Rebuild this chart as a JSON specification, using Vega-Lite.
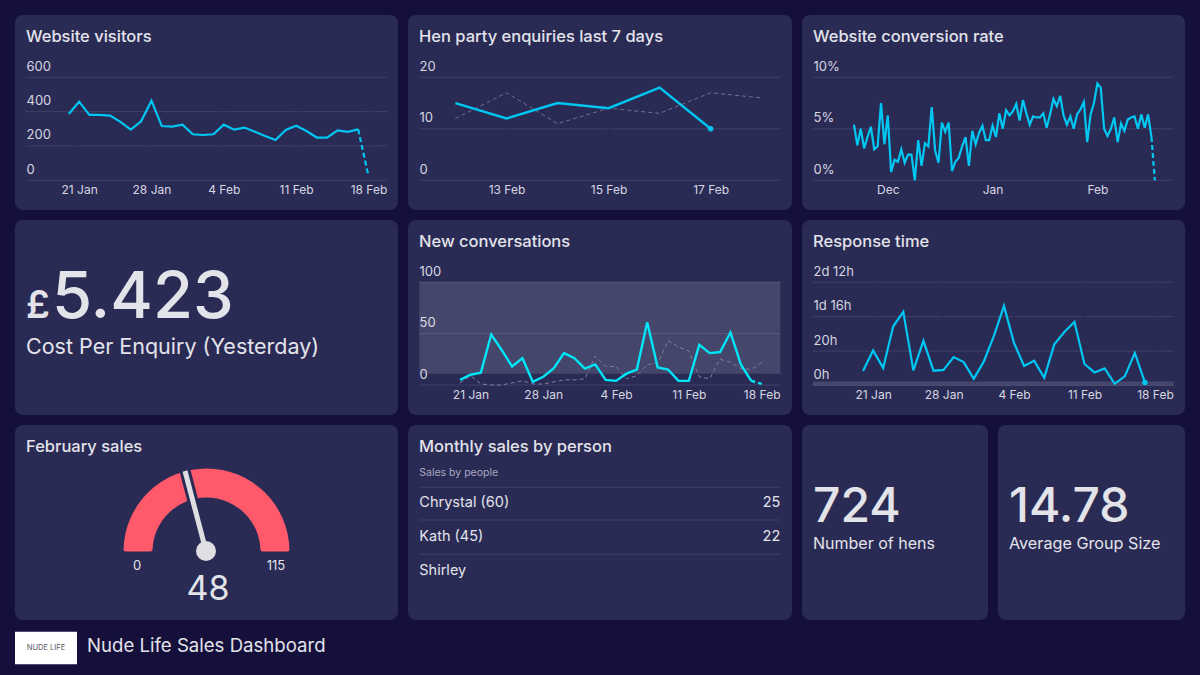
{
  "$schema": "https://vega.github.io/schema/vega-lite/v6.json",
  "background": "#15103b",
  "padding": {"left": 15, "top": 15, "right": 15, "bottom": 5},
  "spacing": 10,
  "config": {
    "font": "Inter",
    "view": {"fill": "#2a2b55", "stroke": null, "cornerRadius": 8},
    "concat": {"spacing": 10},
    "title": {"anchor": "start", "frame": "group", "dx": 11, "offset": -30, "fontSize": 16.5, "fontWeight": 500, "color": "#e3e3ea", "font": "Inter"},
    "axisX": {"title": null, "domain": false, "ticks": false, "grid": false, "offset": -30, "labelPadding": 4, "labelFontSize": 12, "labelColor": "#d6d6e0", "labelFlush": false, "labelOverlap": false, "format": "%-d %b", "labelFont": "Inter"},
    "axisY": {"title": null, "domain": false, "ticks": false, "grid": false, "labelAlign": "left", "labelBaseline": "bottom", "labelOffset": -4, "labelFontSize": 13, "labelColor": "#d6d6e0", "labelFont": "Inter"},
    "rule": {"color": "#3f4068", "strokeWidth": 1},
    "text": {"color": "#e3e3ea", "font": "Inter", "align": "left"}
  },
  "vconcat": [
    {
      "hconcat": [
        {
          "width": 383, "height": 195,
          "title": "Website visitors",
          "layer": [
            {
              "data": {"values": [{"v": 0}, {"v": 200}, {"v": 400}, {"v": 600}]},
              "mark": "rule",
              "encoding": {
                "y": {"field": "v", "type": "quantitative", "scale": {"domain": [0, 600], "range": [165.3, 62.3]}, "axis": {"values": [0, 200, 400, 600], "labelPadding": -11}},
                "x": {"datum": {"year": 2018, "month": "jan", "date": 15, "hours": 20}, "type": "temporal", "scale": {"domain": [{"year": 2018, "month": "jan", "date": 15, "hours": 20}, {"year": 2018, "month": "feb", "date": 19, "hours": 19}], "range": [10.7, 372]}, "axis": {"tickCount": {"interval": "week", "step": 1}}},
                "x2": {"datum": {"year": 2018, "month": "feb", "date": 19, "hours": 19}}
              }
            },
            {
              "data": {"values": [{"date": "2018-01-21"}, {"date": "2018-01-28"}, {"date": "2018-02-04"}, {"date": "2018-02-11"}, {"date": "2018-02-18"}]},
              "mark": {"type": "rule", "color": "#2a2b55", "strokeWidth": 1.5},
              "encoding": {"x": {"field": "date", "type": "temporal"}, "y": {"datum": 0}, "y2": {"datum": 600}}
            },
            {
              "data": {"values": [
                {"date": "2018-01-20", "visitors": 386}, {"date": "2018-01-21", "visitors": 458}, {"date": "2018-01-22", "visitors": 381}, {"date": "2018-01-23", "visitors": 381}, {"date": "2018-01-24", "visitors": 377}, {"date": "2018-01-25", "visitors": 340}, {"date": "2018-01-26", "visitors": 295}, {"date": "2018-01-27", "visitors": 344}, {"date": "2018-01-28", "visitors": 464}, {"date": "2018-01-29", "visitors": 316}, {"date": "2018-01-30", "visitors": 313}, {"date": "2018-01-31", "visitors": 324}, {"date": "2018-02-01", "visitors": 268}, {"date": "2018-02-02", "visitors": 264}, {"date": "2018-02-03", "visitors": 268}, {"date": "2018-02-04", "visitors": 324}, {"date": "2018-02-05", "visitors": 295}, {"date": "2018-02-06", "visitors": 307}, {"date": "2018-02-07", "visitors": 283}, {"date": "2018-02-08", "visitors": 258}, {"date": "2018-02-09", "visitors": 235}, {"date": "2018-02-10", "visitors": 293}, {"date": "2018-02-11", "visitors": 318}, {"date": "2018-02-12", "visitors": 287}, {"date": "2018-02-13", "visitors": 249}, {"date": "2018-02-14", "visitors": 249}, {"date": "2018-02-15", "visitors": 291}, {"date": "2018-02-16", "visitors": 282}, {"date": "2018-02-17", "visitors": 297}
              ]},
              "mark": {"type": "line", "color": "#00c6f2", "strokeWidth": 2.2},
              "encoding": {"x": {"field": "date", "type": "temporal"}, "y": {"field": "visitors", "type": "quantitative"}}
            },
            {
              "data": {"values": [{"date": "2018-02-17", "visitors": 297}, {"date": "2018-02-18", "visitors": 25}]},
              "mark": {"type": "line", "color": "#00c6f2", "strokeWidth": 2.2, "strokeDash": [5, 3]},
              "encoding": {"x": {"field": "date", "type": "temporal"}, "y": {"field": "visitors", "type": "quantitative"}}
            }
          ]
        },
        {
          "width": 384, "height": 195,
          "title": "Hen party enquiries last 7 days",
          "layer": [
            {
              "data": {"values": [{"v": 0}, {"v": 10}, {"v": 20}]},
              "mark": "rule",
              "encoding": {
                "y": {"field": "v", "type": "quantitative", "scale": {"domain": [0, 20], "range": [165.3, 62.3]}, "axis": {"values": [0, 10, 20], "labelPadding": -11}},
                "x": {"datum": {"year": 2018, "month": "feb", "date": 11, "hours": 7}, "type": "temporal", "scale": {"domain": [{"year": 2018, "month": "feb", "date": 11, "hours": 7}, {"year": 2018, "month": "feb", "date": 18, "hours": 8, "minutes": 45}], "range": [11.3, 372.3]}, "axis": {"tickCount": {"interval": "day", "step": 2}}},
                "x2": {"datum": {"year": 2018, "month": "feb", "date": 18, "hours": 8, "minutes": 45}}
              }
            },
            {
              "data": {"values": [{"date": "2018-02-13"}, {"date": "2018-02-15"}, {"date": "2018-02-17"}]},
              "mark": {"type": "rule", "color": "#2a2b55", "strokeWidth": 1.5},
              "encoding": {"x": {"field": "date", "type": "temporal"}, "y": {"datum": 0}, "y2": {"datum": 20}}
            },
            {
              "data": {"values": [{"date": "2018-02-12", "enquiries": 12}, {"date": "2018-02-13", "enquiries": 17}, {"date": "2018-02-14", "enquiries": 11}, {"date": "2018-02-15", "enquiries": 14}, {"date": "2018-02-16", "enquiries": 13}, {"date": "2018-02-17", "enquiries": 17}, {"date": "2018-02-18", "enquiries": 16}]},
              "mark": {"type": "line", "color": "#6f7090", "strokeWidth": 1, "strokeDash": [4, 3]},
              "encoding": {"x": {"field": "date", "type": "temporal"}, "y": {"field": "enquiries", "type": "quantitative"}}
            },
            {
              "data": {"values": [{"date": "2018-02-12", "enquiries": 15}, {"date": "2018-02-13", "enquiries": 12}, {"date": "2018-02-14", "enquiries": 15}, {"date": "2018-02-15", "enquiries": 14}, {"date": "2018-02-16", "enquiries": 18}, {"date": "2018-02-17", "enquiries": 10}]},
              "mark": {"type": "line", "color": "#00c6f2", "strokeWidth": 2.4},
              "encoding": {"x": {"field": "date", "type": "temporal"}, "y": {"field": "enquiries", "type": "quantitative"}}
            },
            {
              "data": {"values": [{"date": "2018-02-17", "enquiries": 10}]},
              "mark": {"type": "point", "filled": true, "color": "#00c6f2", "size": 30, "opacity": 1},
              "encoding": {"x": {"field": "date", "type": "temporal"}, "y": {"field": "enquiries", "type": "quantitative"}}
            }
          ]
        },
        {
          "width": 383, "height": 195,
          "title": "Website conversion rate",
          "layer": [
            {
              "data": {"values": [{"v": 0}, {"v": 5}, {"v": 10}]},
              "mark": "rule",
              "encoding": {
                "y": {"field": "v", "type": "quantitative", "scale": {"domain": [0, 10], "range": [165.3, 62.3]}, "axis": {"values": [0, 5, 10], "labelPadding": -11, "labelExpr": "datum.value + '%'"}},
                "x": {"datum": {"year": 2017, "month": "nov", "date": 8, "hours": 19}, "type": "temporal", "scale": {"domain": [{"year": 2017, "month": "nov", "date": 8, "hours": 19}, {"year": 2018, "month": "feb", "date": 23, "hours": 14}], "range": [10.7, 371.7]}, "axis": {"tickCount": {"interval": "month", "step": 1}, "format": "%b"}},
                "x2": {"datum": {"year": 2018, "month": "feb", "date": 23, "hours": 14}}
              }
            },
            {
              "data": {"values": [{"date": "2017-12-01"}, {"date": "2018-01-01"}, {"date": "2018-02-01"}]},
              "mark": {"type": "rule", "color": "#2a2b55", "strokeWidth": 1.5},
              "encoding": {"x": {"field": "date", "type": "temporal"}, "y": {"datum": 0}, "y2": {"datum": 10}}
            },
            {
              "data": {"values": [
                {"date": "2017-11-21", "rate": 5.4}, {"date": "2017-11-22", "rate": 3.4}, {"date": "2017-11-23", "rate": 5.0}, {"date": "2017-11-24", "rate": 3.1}, {"date": "2017-11-25", "rate": 4.2}, {"date": "2017-11-26", "rate": 5.2}, {"date": "2017-11-27", "rate": 3.0}, {"date": "2017-11-28", "rate": 3.3}, {"date": "2017-11-29", "rate": 7.5}, {"date": "2017-11-30", "rate": 3.5},
                {"date": "2017-12-01", "rate": 6.3}, {"date": "2017-12-02", "rate": 0.8}, {"date": "2017-12-03", "rate": 2.0}, {"date": "2017-12-04", "rate": 1.8}, {"date": "2017-12-05", "rate": 3.0}, {"date": "2017-12-06", "rate": 1.7}, {"date": "2017-12-07", "rate": 2.5}, {"date": "2017-12-08", "rate": 2.5}, {"date": "2017-12-09", "rate": 0.0}, {"date": "2017-12-10", "rate": 3.9},
                {"date": "2017-12-11", "rate": 1.4}, {"date": "2017-12-12", "rate": 3.6}, {"date": "2017-12-13", "rate": 3.3}, {"date": "2017-12-14", "rate": 7.1}, {"date": "2017-12-15", "rate": 2.9}, {"date": "2017-12-16", "rate": 1.7}, {"date": "2017-12-17", "rate": 5.6}, {"date": "2017-12-18", "rate": 4.7}, {"date": "2017-12-19", "rate": 5.6}, {"date": "2017-12-20", "rate": 0.9},
                {"date": "2017-12-21", "rate": 1.8}, {"date": "2017-12-22", "rate": 2.2}, {"date": "2017-12-23", "rate": 3.3}, {"date": "2017-12-24", "rate": 4.2}, {"date": "2017-12-25", "rate": 1.4}, {"date": "2017-12-26", "rate": 4.8}, {"date": "2017-12-27", "rate": 3.5}, {"date": "2017-12-28", "rate": 4.6}, {"date": "2017-12-29", "rate": 5.3}, {"date": "2017-12-30", "rate": 3.9},
                {"date": "2017-12-31", "rate": 3.9}, {"date": "2018-01-01", "rate": 5.3}, {"date": "2018-01-02", "rate": 4.2}, {"date": "2018-01-03", "rate": 6.5}, {"date": "2018-01-04", "rate": 5.0}, {"date": "2018-01-05", "rate": 6.8}, {"date": "2018-01-06", "rate": 6.3}, {"date": "2018-01-07", "rate": 6.7}, {"date": "2018-01-08", "rate": 7.4}, {"date": "2018-01-09", "rate": 5.8},
                {"date": "2018-01-10", "rate": 7.8}, {"date": "2018-01-11", "rate": 6.5}, {"date": "2018-01-12", "rate": 5.4}, {"date": "2018-01-13", "rate": 6.2}, {"date": "2018-01-14", "rate": 6.1}, {"date": "2018-01-15", "rate": 6.1}, {"date": "2018-01-16", "rate": 6.5}, {"date": "2018-01-17", "rate": 5.1}, {"date": "2018-01-18", "rate": 6.4}, {"date": "2018-01-19", "rate": 7.9},
                {"date": "2018-01-20", "rate": 7.2}, {"date": "2018-01-21", "rate": 8.2}, {"date": "2018-01-22", "rate": 6.3}, {"date": "2018-01-23", "rate": 5.4}, {"date": "2018-01-24", "rate": 6.2}, {"date": "2018-01-25", "rate": 5.0}, {"date": "2018-01-26", "rate": 6.4}, {"date": "2018-01-27", "rate": 6.9}, {"date": "2018-01-28", "rate": 7.6}, {"date": "2018-01-29", "rate": 3.7},
                {"date": "2018-01-30", "rate": 6.4}, {"date": "2018-01-31", "rate": 7.5}, {"date": "2018-02-01", "rate": 9.4}, {"date": "2018-02-02", "rate": 9.0}, {"date": "2018-02-03", "rate": 5.0}, {"date": "2018-02-04", "rate": 4.3}, {"date": "2018-02-05", "rate": 5.0}, {"date": "2018-02-06", "rate": 6.1}, {"date": "2018-02-07", "rate": 3.7}, {"date": "2018-02-08", "rate": 5.5},
                {"date": "2018-02-09", "rate": 4.8}, {"date": "2018-02-10", "rate": 5.9}, {"date": "2018-02-11", "rate": 6.1}, {"date": "2018-02-12", "rate": 6.2}, {"date": "2018-02-13", "rate": 5.0}, {"date": "2018-02-14", "rate": 6.4}, {"date": "2018-02-15", "rate": 5.1}, {"date": "2018-02-16", "rate": 6.4}, {"date": "2018-02-17", "rate": 4.2}
              ]},
              "mark": {"type": "line", "color": "#00c6f2", "strokeWidth": 2.2},
              "encoding": {"x": {"field": "date", "type": "temporal"}, "y": {"field": "rate", "type": "quantitative"}}
            },
            {
              "data": {"values": [{"date": "2018-02-17", "rate": 4.2}, {"date": "2018-02-18", "rate": 0}]},
              "mark": {"type": "line", "color": "#00c6f2", "strokeWidth": 2.2, "strokeDash": [5, 3]},
              "encoding": {"x": {"field": "date", "type": "temporal"}, "y": {"field": "rate", "type": "quantitative"}}
            }
          ]
        }
      ]
    },
    {
      "hconcat": [
        {
          "width": 383, "height": 195,
          "data": {"values": [{"currency": "£", "cost": "5.423", "label": "Cost Per Enquiry (Yesterday)"}]},
          "layer": [
            {
              "mark": {"type": "text", "fontSize": 38, "fontWeight": 600, "baseline": "alphabetic"},
              "encoding": {
                "text": {"field": "currency"},
                "x": {"datum": 11, "scale": {"domain": [0, 383], "range": [0, 383], "nice": false}, "axis": null},
                "y": {"datum": 98, "scale": {"domain": [0, 195], "range": [0, 195], "nice": false}, "axis": null}
              }
            },
            {
              "mark": {"type": "text", "fontSize": 65, "fontWeight": 500, "baseline": "alphabetic"},
              "encoding": {"text": {"field": "cost"}, "x": {"datum": 37}, "y": {"datum": 98}}
            },
            {
              "mark": {"type": "text", "fontSize": 21.5, "baseline": "middle"},
              "encoding": {"text": {"field": "label"}, "x": {"datum": 11}, "y": {"datum": 128}}
            }
          ]
        },
        {
          "width": 384, "height": 195,
          "title": "New conversations",
          "layer": [
            {
              "data": {"values": [{"v": 0}, {"v": 50}, {"v": 100}]},
              "mark": "rule",
              "encoding": {
                "y": {"field": "v", "type": "quantitative", "scale": {"domain": [0, 100], "range": [165, 62]}, "axis": {"values": [0, 50, 100], "labelPadding": -11}},
                "x": {"datum": {"year": 2018, "month": "jan", "date": 16, "hours": 2}, "type": "temporal", "scale": {"domain": [{"year": 2018, "month": "jan", "date": 16, "hours": 2}, {"year": 2018, "month": "feb", "date": 19, "hours": 19}], "range": [11.3, 372.3]}, "axis": {"tickCount": {"interval": "week", "step": 1}}},
                "x2": {"datum": {"year": 2018, "month": "feb", "date": 19, "hours": 19}}
              }
            },
            {
              "data": {"values": [{"target_from": 11, "target_to": 100}]},
              "mark": {"type": "rect", "color": "#ffffff", "opacity": 0.13},
              "encoding": {
                "y": {"field": "target_from", "type": "quantitative"},
                "y2": {"field": "target_to"},
                "x": {"datum": {"year": 2018, "month": "jan", "date": 16, "hours": 2}, "type": "temporal"},
                "x2": {"datum": {"year": 2018, "month": "feb", "date": 19, "hours": 19}}
              }
            },
            {
              "data": {"values": [
                {"date": "2018-01-20", "n": 2}, {"date": "2018-01-21", "n": 9}, {"date": "2018-01-22", "n": 1}, {"date": "2018-01-23", "n": 0}, {"date": "2018-01-24", "n": 0}, {"date": "2018-01-25", "n": 2}, {"date": "2018-01-26", "n": 4}, {"date": "2018-01-27", "n": 1}, {"date": "2018-01-28", "n": 1}, {"date": "2018-01-29", "n": 3}, {"date": "2018-01-30", "n": 5}, {"date": "2018-01-31", "n": 5}, {"date": "2018-02-01", "n": 6}, {"date": "2018-02-02", "n": 28}, {"date": "2018-02-03", "n": 18}, {"date": "2018-02-04", "n": 18}, {"date": "2018-02-05", "n": 6}, {"date": "2018-02-06", "n": 9}, {"date": "2018-02-07", "n": 20}, {"date": "2018-02-08", "n": 21}, {"date": "2018-02-09", "n": 43}, {"date": "2018-02-10", "n": 37}, {"date": "2018-02-11", "n": 33}, {"date": "2018-02-12", "n": 8}, {"date": "2018-02-13", "n": 6}, {"date": "2018-02-14", "n": 25}, {"date": "2018-02-15", "n": 22}, {"date": "2018-02-16", "n": 16}, {"date": "2018-02-17", "n": 15}, {"date": "2018-02-18", "n": 22}
              ]},
              "mark": {"type": "line", "color": "#7d7e9b", "strokeWidth": 1, "strokeDash": [4, 3]},
              "encoding": {"x": {"field": "date", "type": "temporal"}, "y": {"field": "n", "type": "quantitative"}}
            },
            {
              "data": {"values": [
                {"date": "2018-01-20", "n": 5}, {"date": "2018-01-21", "n": 10}, {"date": "2018-01-22", "n": 12}, {"date": "2018-01-23", "n": 49}, {"date": "2018-01-24", "n": 34}, {"date": "2018-01-25", "n": 18}, {"date": "2018-01-26", "n": 26}, {"date": "2018-01-27", "n": 3}, {"date": "2018-01-28", "n": 8}, {"date": "2018-01-29", "n": 16}, {"date": "2018-01-30", "n": 31}, {"date": "2018-01-31", "n": 26}, {"date": "2018-02-01", "n": 16}, {"date": "2018-02-02", "n": 20}, {"date": "2018-02-03", "n": 5}, {"date": "2018-02-04", "n": 4}, {"date": "2018-02-05", "n": 11}, {"date": "2018-02-06", "n": 15}, {"date": "2018-02-07", "n": 61}, {"date": "2018-02-08", "n": 17}, {"date": "2018-02-09", "n": 15}, {"date": "2018-02-10", "n": 4}, {"date": "2018-02-11", "n": 4}, {"date": "2018-02-12", "n": 39}, {"date": "2018-02-13", "n": 31}, {"date": "2018-02-14", "n": 32}, {"date": "2018-02-15", "n": 51}, {"date": "2018-02-16", "n": 20}, {"date": "2018-02-17", "n": 4}
              ]},
              "mark": {"type": "line", "color": "#00e6f6", "strokeWidth": 2.4},
              "encoding": {"x": {"field": "date", "type": "temporal"}, "y": {"field": "n", "type": "quantitative"}}
            },
            {
              "data": {"values": [{"date": "2018-02-17", "n": 4}, {"date": "2018-02-18", "n": 1}]},
              "mark": {"type": "line", "color": "#00e6f6", "strokeWidth": 2.4, "strokeDash": [4, 3]},
              "encoding": {"x": {"field": "date", "type": "temporal"}, "y": {"field": "n", "type": "quantitative"}}
            }
          ]
        },
        {
          "width": 383, "height": 195,
          "title": "Response time",
          "layer": [
            {
              "data": {"values": [{"v": 0}, {"v": 20}, {"v": 40}, {"v": 60}]},
              "mark": "rule",
              "encoding": {
                "y": {"field": "v", "type": "quantitative", "scale": {"domain": [0, 60], "range": [165.5, 62.3]}, "axis": {"values": [0, 20, 40, 60], "labelPadding": -11, "labelExpr": "datum.value == 60 ? '2d 12h' : datum.value == 40 ? '1d 16h' : datum.value + 'h'"}},
                "x": {"datum": {"year": 2018, "month": "jan", "date": 15}, "type": "temporal", "scale": {"domain": [{"year": 2018, "month": "jan", "date": 15}, {"year": 2018, "month": "feb", "date": 19, "hours": 20, "minutes": 40}], "range": [10.7, 371.7]}, "axis": {"tickCount": {"interval": "week", "step": 1}}},
                "x2": {"datum": {"year": 2018, "month": "feb", "date": 19, "hours": 20, "minutes": 40}}
              }
            },
            {
              "data": {"values": [{"date": "2018-01-21"}, {"date": "2018-01-28"}, {"date": "2018-02-04"}, {"date": "2018-02-11"}, {"date": "2018-02-18"}]},
              "mark": {"type": "rule", "color": "#2a2b55", "strokeWidth": 1.5},
              "encoding": {"x": {"field": "date", "type": "temporal"}, "y": {"datum": 0}, "y2": {"datum": 60}}
            },
            {
              "data": {"values": [{"target_from": 0, "target_to": 2.3}]},
              "mark": {"type": "rect", "color": "#ffffff", "opacity": 0.13},
              "encoding": {
                "y": {"field": "target_from", "type": "quantitative"},
                "y2": {"field": "target_to"},
                "x": {"datum": {"year": 2018, "month": "jan", "date": 15}, "type": "temporal"},
                "x2": {"datum": {"year": 2018, "month": "feb", "date": 19, "hours": 20, "minutes": 40}}
              }
            },
            {
              "data": {"values": [
                {"date": "2018-01-20", "hours": 8.4}, {"date": "2018-01-21", "hours": 20.4}, {"date": "2018-01-22", "hours": 10.1}, {"date": "2018-01-23", "hours": 34.4}, {"date": "2018-01-24", "hours": 42.8}, {"date": "2018-01-25", "hours": 8.8}, {"date": "2018-01-26", "hours": 26}, {"date": "2018-01-27", "hours": 8.6}, {"date": "2018-01-28", "hours": 9.1}, {"date": "2018-01-29", "hours": 16.5}, {"date": "2018-01-30", "hours": 13.6}, {"date": "2018-01-31", "hours": 3.9}, {"date": "2018-02-01", "hours": 14}, {"date": "2018-02-02", "hours": 28.8}, {"date": "2018-02-03", "hours": 46.3}, {"date": "2018-02-04", "hours": 24.7}, {"date": "2018-02-05", "hours": 11.3}, {"date": "2018-02-06", "hours": 14.4}, {"date": "2018-02-07", "hours": 4.5}, {"date": "2018-02-08", "hours": 23.9}, {"date": "2018-02-09", "hours": 31.1}, {"date": "2018-02-10", "hours": 37}, {"date": "2018-02-11", "hours": 12.5}, {"date": "2018-02-12", "hours": 7.6}, {"date": "2018-02-13", "hours": 9.9}, {"date": "2018-02-14", "hours": 1}, {"date": "2018-02-15", "hours": 5.3}, {"date": "2018-02-16", "hours": 18.9}, {"date": "2018-02-17", "hours": 1.8}
              ]},
              "mark": {"type": "line", "color": "#00c6f2", "strokeWidth": 2.2},
              "encoding": {"x": {"field": "date", "type": "temporal"}, "y": {"field": "hours", "type": "quantitative"}}
            },
            {
              "data": {"values": [{"date": "2018-02-17", "hours": 1.8}]},
              "mark": {"type": "point", "filled": true, "color": "#00c6f2", "size": 30, "opacity": 1},
              "encoding": {"x": {"field": "date", "type": "temporal"}, "y": {"field": "hours", "type": "quantitative"}}
            }
          ]
        }
      ]
    },
    {
      "hconcat": [
        {
          "width": 383, "height": 195,
          "title": "February sales",
          "data": {"values": [{"sales": 48, "min": 0, "max": 115}]},
          "layer": [
            {
              "mark": {"type": "arc", "color": "#ff5a6b", "radius": 83, "radius2": 54, "cornerRadius": 2},
              "encoding": {
                "theta": {"field": "min", "type": "quantitative", "scale": {"domain": [0, 115], "range": [-1.5708, 1.5708]}},
                "theta2": {"field": "max"},
                "x": {"datum": 191.5, "scale": {"domain": [0, 383], "range": [0, 383], "nice": false}, "axis": null},
                "y": {"datum": 126.5, "scale": {"domain": [0, 195], "range": [0, 195], "nice": false}, "axis": null}
              }
            },
            {
              "mark": {"type": "rule", "color": "#2a2b55", "strokeWidth": 11},
              "encoding": {"x": {"datum": 191}, "y": {"datum": 126}, "x2": {"datum": 168}, "y2": {"datum": 38}}
            },
            {
              "mark": {"type": "rule", "color": "#dedee3", "strokeWidth": 5},
              "encoding": {"x": {"datum": 191}, "y": {"datum": 126}, "x2": {"datum": 170}, "y2": {"datum": 46}}
            },
            {
              "mark": {"type": "point", "filled": true, "color": "#dedee3", "size": 400, "opacity": 1},
              "encoding": {"x": {"datum": 191}, "y": {"datum": 126}}
            },
            {
              "mark": {"type": "text", "fontSize": 13, "align": "center", "baseline": "middle"},
              "encoding": {"text": {"field": "min"}, "x": {"datum": 122}, "y": {"datum": 141}}
            },
            {
              "mark": {"type": "text", "fontSize": 13, "align": "center", "baseline": "middle"},
              "encoding": {"text": {"field": "max"}, "x": {"datum": 261}, "y": {"datum": 141}}
            },
            {
              "mark": {"type": "text", "fontSize": 34, "align": "center", "baseline": "middle"},
              "encoding": {"text": {"field": "sales"}, "x": {"datum": 193}, "y": {"datum": 165}}
            }
          ]
        },
        {
          "width": 384, "height": 195,
          "title": "Monthly sales by person",
          "layer": [
            {
              "data": {"values": [{"line": 0.538}, {"line": 1.5}, {"line": 2.509}]},
              "mark": "rule",
              "encoding": {
                "y": {"field": "line", "type": "quantitative", "scale": {"domain": [1, 3], "range": [78, 146], "nice": false}, "axis": null},
                "x": {"datum": 0, "scale": {"domain": [0, 1], "range": [11.3, 372.3], "nice": false}, "axis": null},
                "x2": {"datum": 1}
              }
            },
            {
              "data": {"values": [{"heading": "Sales by people"}]},
              "mark": {"type": "text", "fontSize": 10.5, "color": "#a9a9c0", "baseline": "middle"},
              "encoding": {"text": {"field": "heading"}, "x": {"datum": 0}, "y": {"datum": 0.118}}
            },
            {
              "data": {"values": [{"rank": 1, "person": "Chrystal (60)", "sales": 25}, {"rank": 2, "person": "Kath (45)", "sales": 22}, {"rank": 3, "person": "Shirley", "sales": ""}]},
              "layer": [
                {
                  "mark": {"type": "text", "fontSize": 14.5, "baseline": "middle"},
                  "encoding": {"text": {"field": "person"}, "x": {"datum": 0}, "y": {"field": "rank", "type": "quantitative"}}
                },
                {
                  "mark": {"type": "text", "fontSize": 14.5, "align": "right", "baseline": "middle"},
                  "encoding": {"text": {"field": "sales"}, "x": {"datum": 1}, "y": {"field": "rank", "type": "quantitative"}}
                }
              ]
            }
          ]
        },
        {
          "width": 186, "height": 195,
          "data": {"values": [{"hens": "724", "label": "Number of hens"}]},
          "layer": [
            {
              "mark": {"type": "text", "fontSize": 48, "fontWeight": 500, "baseline": "alphabetic"},
              "encoding": {
                "text": {"field": "hens"},
                "x": {"datum": 11, "scale": {"domain": [0, 186], "range": [0, 186], "nice": false}, "axis": null},
                "y": {"datum": 97, "scale": {"domain": [0, 195], "range": [0, 195], "nice": false}, "axis": null}
              }
            },
            {
              "mark": {"type": "text", "fontSize": 16, "baseline": "middle"},
              "encoding": {"text": {"field": "label"}, "x": {"datum": 11}, "y": {"datum": 119}}
            }
          ]
        },
        {
          "width": 187, "height": 195,
          "data": {"values": [{"size": "14.78", "label": "Average Group Size"}]},
          "layer": [
            {
              "mark": {"type": "text", "fontSize": 48, "fontWeight": 500, "baseline": "alphabetic"},
              "encoding": {
                "text": {"field": "size"},
                "x": {"datum": 11, "scale": {"domain": [0, 187], "range": [0, 187], "nice": false}, "axis": null},
                "y": {"datum": 97, "scale": {"domain": [0, 195], "range": [0, 195], "nice": false}, "axis": null}
              }
            },
            {
              "mark": {"type": "text", "fontSize": 16.2, "baseline": "middle"},
              "encoding": {"text": {"field": "label"}, "x": {"datum": 11}, "y": {"datum": 119}}
            }
          ]
        }
      ]
    },
    {
      "width": 1170, "height": 40,
      "view": {"fill": null},
      "data": {"values": [{"brand": "NUDE LIFE", "name": "Nude Life Sales Dashboard"}]},
      "layer": [
        {
          "mark": {"type": "rect", "color": "#ffffff"},
          "encoding": {
            "x": {"datum": 0, "scale": {"domain": [0, 1170], "range": [0, 1170], "nice": false}, "axis": null},
            "x2": {"datum": 62},
            "y": {"datum": 1.7, "scale": {"domain": [0, 40], "range": [0, 40], "nice": false}, "axis": null},
            "y2": {"datum": 34.3}
          }
        },
        {
          "mark": {"type": "text", "fontSize": 7.5, "color": "#55555f", "align": "center", "baseline": "middle"},
          "encoding": {"text": {"field": "brand"}, "x": {"datum": 31}, "y": {"datum": 18}}
        },
        {
          "mark": {"type": "text", "fontSize": 18.6, "baseline": "middle"},
          "encoding": {"text": {"field": "name"}, "x": {"datum": 72}, "y": {"datum": 16}}
        }
      ]
    }
  ]
}
